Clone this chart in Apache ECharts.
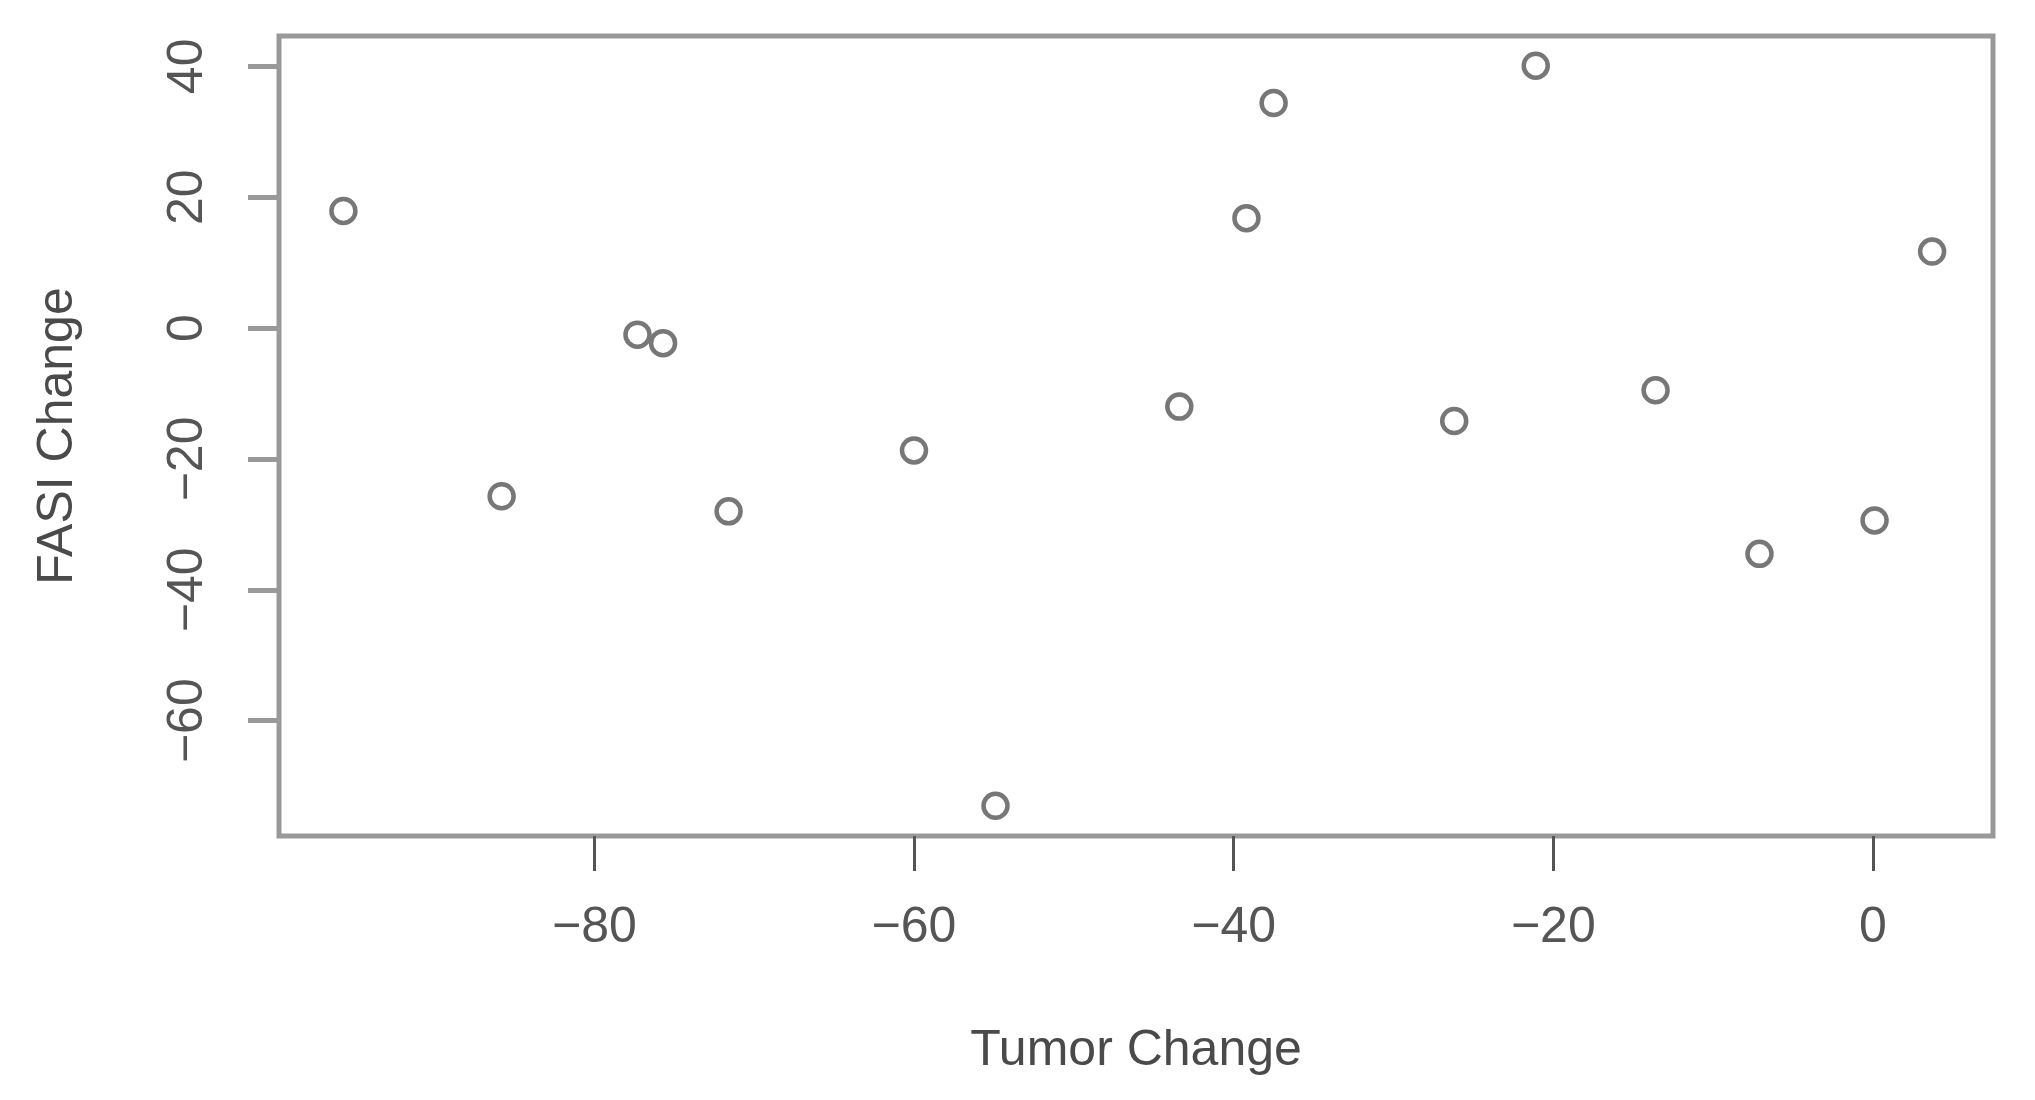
<!DOCTYPE html>
<html>
<head>
<meta charset="utf-8">
<script src="https://cdn.jsdelivr.net/npm/echarts@6/dist/echarts.min.js"></script>
<style>
html,body{margin:0;padding:0;background:#fff;}
#chart{width:2035px;height:1100px;}
</style>
</head>
<body>
<div id="chart"></div>
<script>
// Data
var tumorChange = [-95.7, -85.8, -77.3, -75.7, -71.6, -60.0, -54.9, -43.4, -39.2, -37.5, -26.2, -21.1, -13.6, -7.1, 0.1, 3.7];
var fasiChange  = [17.9, -25.7, -1.0, -2.3, -28.0, -18.7, -73.0, -12.0, 16.8, 34.4, -14.2, 40.1, -9.5, -34.5, -29.4, 11.7];
var xTicks = [-80, -60, -40, -20, 0];
var yTicks = [-60, -40, -20, 0, 20, 40];
var xName = 'Tumor Change';
var yName = 'FASI Change';

var points = tumorChange.map(function (x, i) { return [x, fasiChange[i]]; });
function fmt(v) { return String(v).replace('-', '\u2212'); }

var font = '"Liberation Sans", Arial, sans-serif';
var chart = echarts.init(document.getElementById('chart'), null, {renderer: 'canvas'});
chart.setOption({
  backgroundColor: '#ffffff',
  animation: false,
  grid: {
    left: 279, top: 36, right: 42, bottom: 264,
    show: true, borderColor: '#999999', borderWidth: 5,
    backgroundColor: 'transparent',
    containLabel: false,
    outerBoundsMode: 'none'
  },
  xAxis: {
    type: 'value',
    min: -99.73, max: 7.51,
    name: xName,
    nameLocation: 'middle',
    nameGap: 190,
    nameTextStyle: {fontFamily: font, fontSize: 50, color: '#4a4a4a'},
    axisLine: {show: false, onZero: false},
    splitLine: {show: false},
    axisTick: {show: true, length: 35, inside: false, customValues: xTicks,
               lineStyle: {color: '#555555', width: 3}},
    axisLabel: {show: true, customValues: xTicks, margin: 67, formatter: fmt,
                fontFamily: font, fontSize: 50, color: '#555555'}
  },
  yAxis: {
    type: 'value',
    min: -77.62, max: 44.64,
    name: yName,
    nameLocation: 'middle',
    nameGap: 196,
    nameRotate: 90,
    nameTextStyle: {fontFamily: font, fontSize: 50, color: '#4a4a4a'},
    axisLine: {show: false, onZero: false},
    splitLine: {show: false},
    axisTick: {show: true, length: 31, inside: false, customValues: yTicks,
               lineStyle: {color: '#999999', width: 5}},
    axisLabel: {show: true, customValues: yTicks, margin: 66, rotate: 90, formatter: fmt,
                fontFamily: font, fontSize: 50, color: '#555555'}
  },
  series: [{
    type: 'scatter',
    data: points,
    symbol: 'circle',
    symbolSize: 24,
    itemStyle: {color: 'rgba(255,255,255,0)', borderColor: '#777777', borderWidth: 4.5, opacity: 1},
    emphasis: {disabled: true}
  }]
});
</script>
</body>
</html>
